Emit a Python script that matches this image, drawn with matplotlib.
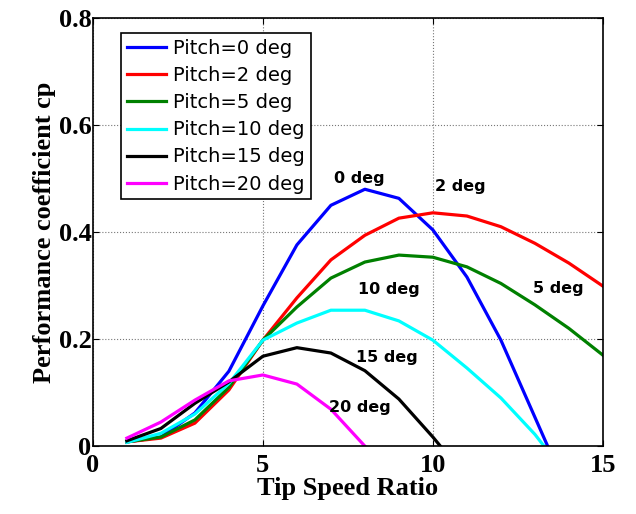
import matplotlib
matplotlib.use("Agg")
import matplotlib.pyplot as plt

# tip speed ratio
tsr = [1, 2, 3, 4, 5, 6, 7, 8, 9, 10, 11, 12, 13, 14, 15]

# cp curves for each pitch angle
cp_0 = [0.008, 0.017, 0.062, 0.14, 0.262, 0.376, 0.45, 0.48, 0.463, 0.404, 0.316, 0.198, 0.054, -0.09]
cp_2 = [0.008, 0.015, 0.043, 0.105, 0.198, 0.277, 0.348, 0.394, 0.426, 0.436, 0.43, 0.41, 0.379, 0.342, 0.299]
cp_5 = [0.008, 0.017, 0.049, 0.11, 0.198, 0.26, 0.314, 0.344, 0.357, 0.353, 0.335, 0.304, 0.264, 0.22, 0.17]
cp_10 = [0.007, 0.024, 0.06, 0.117, 0.198, 0.23, 0.254, 0.254, 0.234, 0.198, 0.146, 0.09, 0.022, -0.06]
cp_15 = [0.01, 0.033, 0.08, 0.12, 0.168, 0.184, 0.174, 0.141, 0.088, 0.017, -0.06]
cp_20 = [0.015, 0.045, 0.086, 0.122, 0.133, 0.116, 0.069, 0.0]

labels = ["Pitch=0 deg", "Pitch=2 deg", "Pitch=5 deg",
          "Pitch=10 deg", "Pitch=15 deg", "Pitch=20 deg"]
colors = ["#0000ff", "#ff0000", "#008000", "#00ffff", "#000000", "#ff00ff"]
curves = [cp_0, cp_2, cp_5, cp_10, cp_15, cp_20]

# curve tags inside the plot
tag_text = ["0 deg", "2 deg", "5 deg", "10 deg", "15 deg", "20 deg"]
tag_x = [7.85, 10.8, 13.7, 8.7, 8.65, 7.85]
tag_y = [0.50, 0.486, 0.295, 0.293, 0.166, 0.073]

fig = plt.figure(figsize=(6.36, 5.14), dpi=100)
ax = fig.add_axes([0.146, 0.132, 0.802, 0.833])

for cp, c, lab in zip(curves, colors, labels):
    ax.plot(tsr[:len(cp)], cp, color=c, lw=2.3, label=lab)

for t, x, y in zip(tag_text, tag_x, tag_y):
    ax.text(x, y, t, ha="center", va="center", fontsize=11.5, fontweight="bold")

ax.set_xlim(0, 15)
ax.set_ylim(0, 0.8)
ax.set_xticks([0, 5, 10, 15])
ax.set_yticks([0, 0.2, 0.4, 0.6, 0.8])
ax.set_yticklabels(["0", "0.2", "0.4", "0.6", "0.8"])
ax.grid(True, color="#777777", linestyle=":", linewidth=0.8)
ax.tick_params(direction="in", top=True, right=True, length=4, pad=1)
ax.tick_params(axis="x", pad=6)
for lbl in ax.get_xticklabels() + ax.get_yticklabels():
    lbl.set_family("Liberation Serif")
    lbl.set_fontweight("bold")
    lbl.set_fontsize(19)
for s in ax.spines.values():
    s.set_linewidth(1.2)

ax.set_xlabel("Tip Speed Ratio", family="Liberation Serif", fontweight="bold",
              fontsize=19, labelpad=0)
ax.set_ylabel("Performance coefficient cp", family="Liberation Serif",
              fontweight="bold", fontsize=19, labelpad=2)

leg = ax.legend(loc="upper left", bbox_to_anchor=(0.055, 0.965),
                prop={"size": 14}, fancybox=False, framealpha=1,
                edgecolor="black", handlelength=2.0, handletextpad=0.4,
                labelspacing=0.42, borderpad=0.3, borderaxespad=0)
leg.get_frame().set_linewidth(1.2)

fig.savefig("out.png", dpi=100)
